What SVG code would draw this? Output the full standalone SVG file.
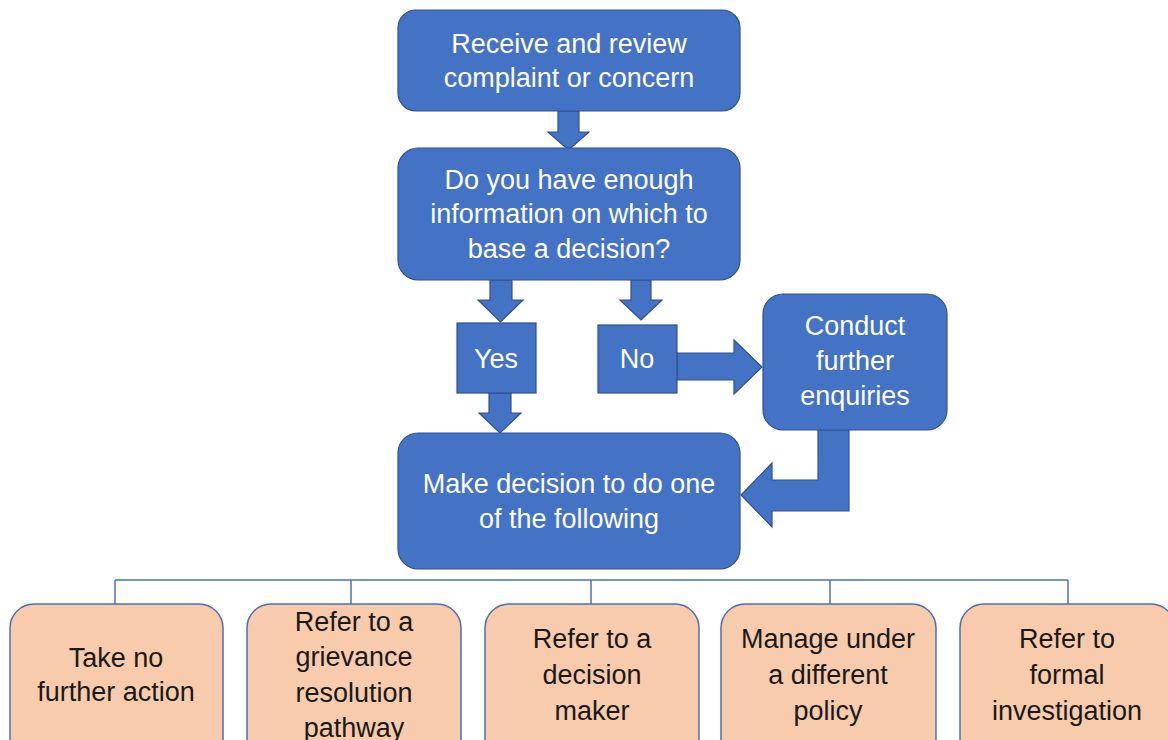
<svg xmlns="http://www.w3.org/2000/svg" width="1168" height="740" viewBox="0 0 1168 740">
<style>
.b{fill:#4472C4;stroke:#2F528F;stroke-width:1.2}
.o{fill:#F8CBAD;stroke:#4A6FB5;stroke-width:1.5}
.tw{font-family:"Liberation Sans",Arial,sans-serif;font-size:27px;fill:#ffffff;text-anchor:middle}
.tk{font-family:"Liberation Sans",Arial,sans-serif;font-size:27px;fill:#1a1a1a;text-anchor:middle}
.c{fill:none;stroke:#4472C4;stroke-width:1.5}
</style>
<rect width="1168" height="740" fill="#ffffff"/>
<g id="connectors">
<polygon class="b" points="558,111 579,111 579,132 589,132 568.5,150 548,132 558,132"/>
<polygon class="b" points="490,280 512,280 512,300 523,300 500.5,322 478,300 490,300"/>
<polygon class="b" points="489,393 511,393 511,413 521,413 500,433 479,413 489,413"/>
<polygon class="b" points="631,280 651,280 651,300 662,300 641,320 620,300 631,300"/>
<polygon class="b" points="677,353 734,353 734,340 762,367 734,394 734,380 677,380"/>
<polygon class="b" points="818,430 849,430 849,511 772,511 772,527 741,495 772,463 772,480 818,480"/>
<path class="c" d="M115,580 H1068 M115,580 V604 M351,580 V604 M591,580 V604 M830,580 V604 M1068,580 V604"/>
</g>
<g id="receive">
<rect class="b" x="398" y="10" width="342" height="101" rx="18"/>
<text class="tw" x="569" y="53">Receive and review</text>
<text class="tw" x="569" y="87">complaint or concern</text>
</g>
<g id="enough-info">
<rect class="b" x="398" y="148" width="342" height="132" rx="20"/>
<text class="tw" x="569" y="189">Do you have enough</text>
<text class="tw" x="569" y="223">information on which to</text>
<text class="tw" x="569" y="258">base a decision?</text>
</g>
<g id="yes">
<rect class="b" x="457" y="323" width="79" height="70"/>
<text class="tw" x="496" y="368">Yes</text>
</g>
<g id="no">
<rect class="b" x="598" y="325" width="79" height="68"/>
<text class="tw" x="637" y="368">No</text>
</g>
<g id="conduct">
<rect class="b" x="763" y="294" width="184" height="136" rx="20"/>
<text class="tw" x="855" y="335">Conduct</text>
<text class="tw" x="855" y="370">further</text>
<text class="tw" x="855" y="405">enquiries</text>
</g>
<g id="make-decision">
<rect class="b" x="398" y="433" width="342" height="136" rx="20"/>
<text class="tw" x="569" y="493">Make decision to do one</text>
<text class="tw" x="569" y="528">of the following</text>
</g>
<g id="no-action">
<rect class="o" x="10" y="604" width="213" height="160" rx="24"/>
<text class="tk" x="116" y="667">Take no</text>
<text class="tk" x="116" y="701">further action</text>
</g>
<g id="grievance">
<rect class="o" x="247" y="604" width="214" height="160" rx="24"/>
<text class="tk" x="354" y="631">Refer to a</text>
<text class="tk" x="354" y="666">grievance</text>
<text class="tk" x="354" y="702">resolution</text>
<text class="tk" x="354" y="737">pathway</text>
</g>
<g id="decision-maker">
<rect class="o" x="485" y="604" width="214" height="160" rx="24"/>
<text class="tk" x="592" y="648">Refer to a</text>
<text class="tk" x="592" y="684">decision</text>
<text class="tk" x="592" y="720">maker</text>
</g>
<g id="different-policy">
<rect class="o" x="721" y="604" width="215" height="160" rx="24"/>
<text class="tk" x="828" y="648">Manage under</text>
<text class="tk" x="828" y="684">a different</text>
<text class="tk" x="828" y="720">policy</text>
</g>
<g id="formal-investigation">
<rect class="o" x="960" y="604" width="215" height="160" rx="24"/>
<text class="tk" x="1067" y="648">Refer to</text>
<text class="tk" x="1067" y="684">formal</text>
<text class="tk" x="1067" y="720">investigation</text>
</g>
</svg>
